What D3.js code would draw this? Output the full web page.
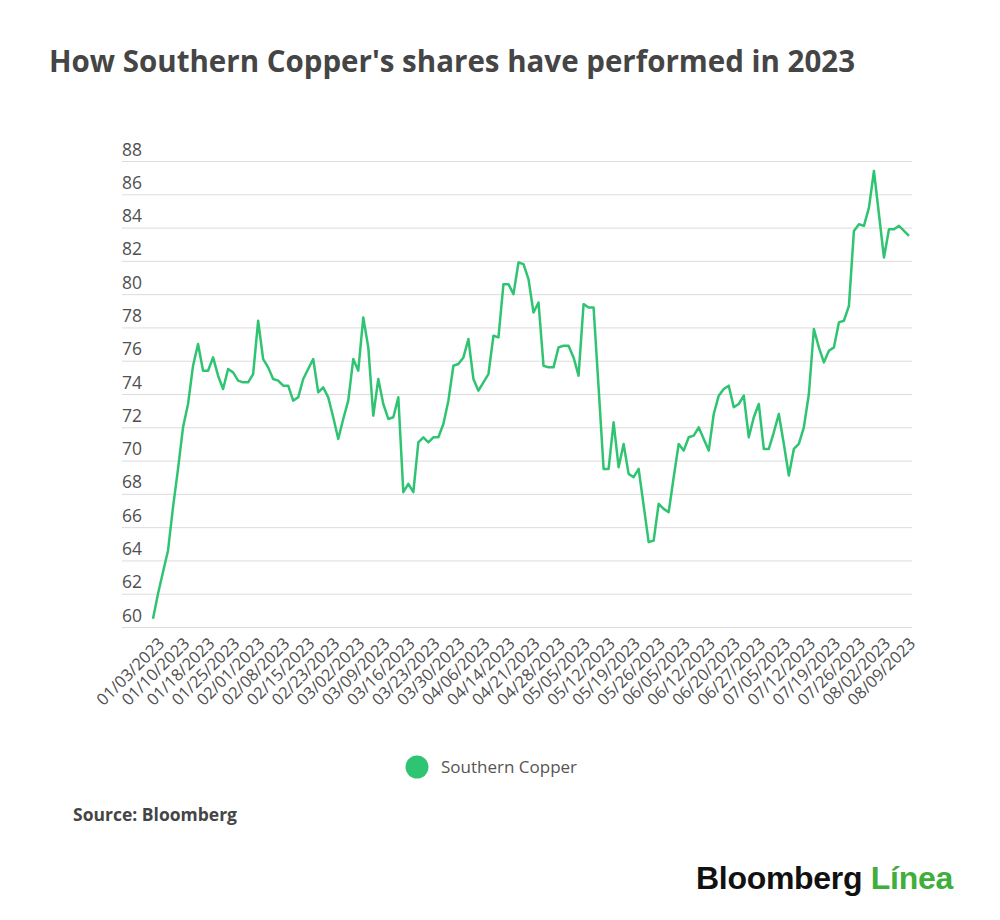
<!DOCTYPE html>
<html>
<head>
<meta charset="utf-8">
<script src="https://cdn.jsdelivr.net/npm/d3@7"></script>
<style>
  html, body { margin: 0; padding: 0; background: #fff; }
  svg { display: block; font-family: "Open Sans", Roboto, sans-serif; }
</style>
</head>
<body>
<svg id="chart" width="1000" height="920"></svg>
<script>
// trading days shown on the x axis (one point per day)
const dates = [
  "01/03/2023","01/04/2023","01/05/2023","01/06/2023","01/09/2023","01/10/2023","01/11/2023","01/12/2023","01/13/2023","01/17/2023",
  "01/18/2023","01/19/2023","01/20/2023","01/23/2023","01/24/2023","01/25/2023","01/26/2023","01/27/2023","01/30/2023","01/31/2023",
  "02/01/2023","02/02/2023","02/03/2023","02/06/2023","02/07/2023","02/08/2023","02/09/2023","02/10/2023","02/13/2023","02/14/2023",
  "02/15/2023","02/16/2023","02/17/2023","02/21/2023","02/22/2023","02/23/2023","02/24/2023","02/27/2023","02/28/2023","03/01/2023",
  "03/02/2023","03/03/2023","03/06/2023","03/07/2023","03/08/2023","03/09/2023","03/10/2023","03/13/2023","03/14/2023","03/15/2023",
  "03/16/2023","03/17/2023","03/20/2023","03/21/2023","03/22/2023","03/23/2023","03/24/2023","03/27/2023","03/28/2023","03/29/2023",
  "03/30/2023","03/31/2023","04/03/2023","04/04/2023","04/05/2023","04/06/2023","04/10/2023","04/11/2023","04/12/2023","04/13/2023",
  "04/14/2023","04/17/2023","04/18/2023","04/19/2023","04/20/2023","04/21/2023","04/24/2023","04/25/2023","04/26/2023","04/27/2023",
  "04/28/2023","05/01/2023","05/02/2023","05/03/2023","05/04/2023","05/05/2023","05/08/2023","05/09/2023","05/10/2023","05/11/2023",
  "05/12/2023","05/15/2023","05/16/2023","05/17/2023","05/18/2023","05/19/2023","05/22/2023","05/23/2023","05/24/2023","05/25/2023",
  "05/26/2023","05/30/2023","05/31/2023","06/01/2023","06/02/2023","06/05/2023","06/06/2023","06/07/2023","06/08/2023","06/09/2023",
  "06/12/2023","06/13/2023","06/14/2023","06/15/2023","06/16/2023","06/20/2023","06/21/2023","06/22/2023","06/23/2023","06/26/2023",
  "06/27/2023","06/28/2023","06/29/2023","06/30/2023","07/03/2023","07/05/2023","07/06/2023","07/07/2023","07/10/2023","07/11/2023",
  "07/12/2023","07/13/2023","07/14/2023","07/17/2023","07/18/2023","07/19/2023","07/20/2023","07/21/2023","07/24/2023","07/25/2023",
  "07/26/2023","07/27/2023","07/28/2023","07/31/2023","08/01/2023","08/02/2023","08/03/2023","08/04/2023","08/07/2023","08/08/2023",
  "08/09/2023","08/10/2023"
];

// closing price, USD
const prices = [
  60.5, 62.0, 63.3, 64.6, 67.2, 69.5, 72.0, 73.4, 75.7, 77.0,
  75.4, 75.4, 76.2, 75.1, 74.3, 75.5, 75.3, 74.8, 74.7, 74.7,
  75.2, 78.4, 76.1, 75.6, 74.9, 74.8, 74.5, 74.5, 73.6, 73.8,
  74.9, 75.5, 76.1, 74.1, 74.4, 73.8, 72.6, 71.3, 72.5, 73.6,
  76.1, 75.4, 78.6, 76.8, 72.7, 74.9, 73.4, 72.5, 72.6, 73.8,
  68.1, 68.6, 68.1, 71.1, 71.4, 71.1, 71.4, 71.4, 72.2, 73.6,
  75.7, 75.8, 76.2, 77.3, 74.9, 74.2, 74.7, 75.2, 77.5, 77.4,
  80.6, 80.6, 80.0, 81.9, 81.8, 80.9, 78.9, 79.5, 75.7, 75.6,
  75.6, 76.8, 76.9, 76.9, 76.2, 75.1, 79.4, 79.2, 79.2, 74.4,
  69.5, 69.5, 72.3, 69.6, 71.0, 69.2, 69.0, 69.5, 67.3, 65.1,
  65.2, 67.4, 67.1, 66.9, 69.0, 71.0, 70.6, 71.4, 71.5, 72.0,
  71.3, 70.6, 72.8, 73.9, 74.3, 74.5, 73.2, 73.4, 73.9, 71.4,
  72.6, 73.4, 70.7, 70.7, 71.7, 72.8, 71.0, 69.1, 70.7, 71.0,
  72.0, 74.0, 77.9, 76.8, 75.9, 76.6, 76.8, 78.3, 78.4, 79.3,
  83.8, 84.2, 84.1, 85.2, 87.4, 84.8, 82.2, 83.9, 83.9, 84.1,
  83.8, 83.5
];

const xTickLabels = [
  "01/03/2023","01/10/2023","01/18/2023","01/25/2023","02/01/2023","02/08/2023","02/15/2023","02/23/2023",
  "03/02/2023","03/09/2023","03/16/2023","03/23/2023","03/30/2023","04/06/2023","04/14/2023","04/21/2023",
  "04/28/2023","05/05/2023","05/12/2023","05/19/2023","05/26/2023","06/05/2023","06/12/2023","06/20/2023",
  "06/27/2023","07/05/2023","07/12/2023","07/19/2023","07/26/2023","08/02/2023","08/09/2023"
];
const yTicks = [60, 62, 64, 66, 68, 70, 72, 74, 76, 78, 80, 82, 84, 86, 88];

const seriesName = "Southern Copper";
const title = "How Southern Copper's shares have performed in 2023";
const source = "Source: Bloomberg";

const GREEN = "#2fc472";
const GRID_LEFT = 122, GRID_RIGHT = 912;
const FONT = "'Open Sans', Roboto, sans-serif";

const svg = d3.select("#chart");

svg.append("text")
  .attr("x", 49).attr("y", 72)
  .attr("font-size", 29.5).attr("font-weight", 700)
  .attr("fill", "#454545")
  .text(title);

const x = d3.scaleLinear().domain([0, dates.length - 1]).range([153, 909]);
const y = d3.scaleLinear().domain([60, 88]).range([627, 161]);

// y axis: gridlines with labels sitting above the line
const yAxis = svg.append("g")
  .attr("transform", `translate(${GRID_LEFT},0)`)
  .call(d3.axisRight(y).tickValues(yTicks).tickSize(GRID_RIGHT - GRID_LEFT).tickFormat(d3.format("d")));
yAxis.select(".domain").remove();
yAxis.selectAll(".tick line").attr("stroke", "#dcdcdc").attr("stroke-width", 1);
yAxis.selectAll(".tick text")
  .attr("x", 0).attr("dy", -6)
  .attr("text-anchor", "start")
  .attr("font-size", 17.5)
  .attr("font-family", FONT)
  .attr("fill", "#505050");

// x axis: every 5th trading day, rotated
const tickIdx = xTickLabels.map(d => dates.indexOf(d));
const xAxis = svg.append("g")
  .attr("transform", `translate(0,${y(60)})`)
  .call(d3.axisBottom(x).tickValues(tickIdx).tickSize(0).tickFormat(i => dates[i]));
xAxis.select(".domain").remove();
xAxis.selectAll(".tick text")
  .attr("transform", "rotate(-45)")
  .attr("x", -4).attr("y", 0).attr("dy", 21)
  .attr("text-anchor", "end")
  .attr("font-size", 16.5)
  .attr("font-family", FONT)
  .attr("fill", "#505050");

const line = d3.line()
  .x((d, i) => x(i))
  .y(d => y(d));

svg.append("path")
  .datum(prices)
  .attr("fill", "none")
  .attr("stroke", GREEN)
  .attr("stroke-width", 2.5)
  .attr("stroke-linejoin", "round")
  .attr("d", line);

// legend
const legend = svg.append("g").attr("transform", "translate(417,767)");
legend.append("circle").attr("r", 11.5).attr("fill", GREEN);
legend.append("text")
  .attr("x", 24).attr("dy", "0.35em")
  .attr("font-size", 17).attr("fill", "#555")
  .text(seriesName);

svg.append("text")
  .attr("x", 73).attr("y", 821)
  .attr("font-size", 17.5).attr("font-weight", 700)
  .attr("fill", "#454545")
  .text(source);

// brand mark
const brand = svg.append("text")
  .attr("x", 696).attr("y", 889)
  .attr("font-family", "'Liberation Sans', Arial, sans-serif")
  .attr("font-size", 32).attr("font-weight", 700)
  .attr("letter-spacing", -0.3);
brand.append("tspan").attr("fill", "#111").text("Bloomberg ");
brand.append("tspan").attr("fill", "#3fae3a").text("Línea");
</script>
</body>
</html>
